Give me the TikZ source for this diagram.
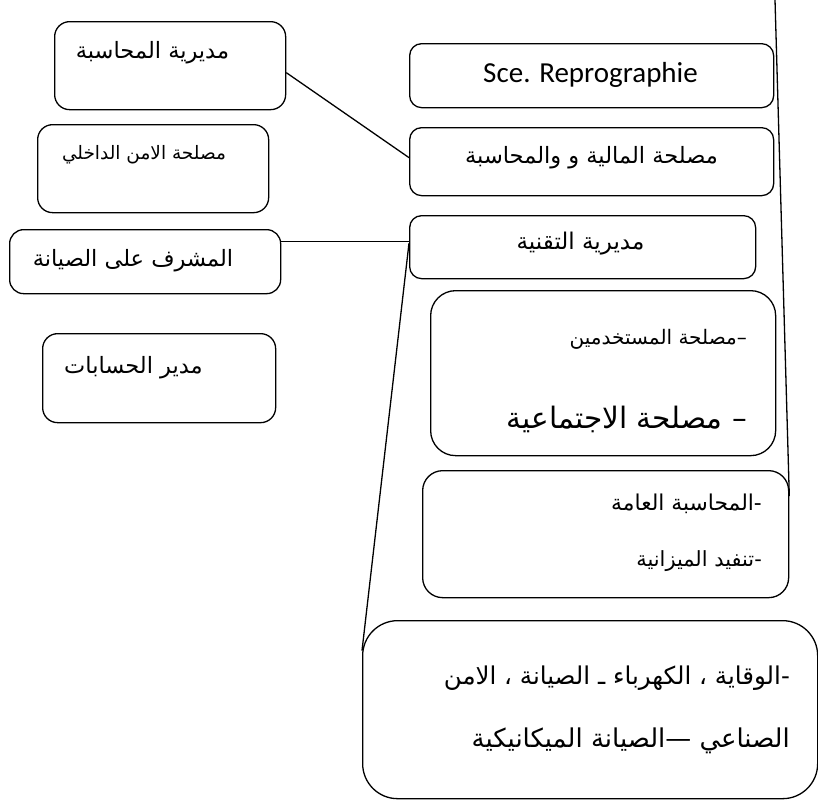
\documentclass[tikz,border=0pt]{standalone}
\usepackage{fontspec}
\setmainfont{Carlito}
\newfontfamily\ar[Script=Arabic]{DejaVu Sans}
\TeXXeTstate=1
\begin{document}
\begin{tikzpicture}[x=1pt,y=-1pt,
  box/.style={draw, line width=1.3pt, rounded corners=#1, inner sep=0pt, anchor=north west},
  atxt/.style={font=\ar\fontsize{#1}{#1}\selectfont, inner sep=0pt},
  ltxt/.style={font=\fontsize{#1}{#1}\selectfont, inner sep=0pt},
  conn/.style={line width=1.3pt}]
\useasboundingbox (0,0) rectangle (818,801);
% left boxes
\node[box=15pt, minimum width=231pt, minimum height=88pt] (b1) at (54,21) {};
\node[box=15pt, minimum width=231pt, minimum height=88pt] (b2) at (37,124) {};
\node[box=14pt, minimum width=271pt, minimum height=64pt] (b3) at (9,229) {};
\node[box=15pt, minimum width=233pt, minimum height=89pt] (b4) at (42,333) {};
% right boxes
\node[box=12pt, minimum width=364pt, minimum height=64pt] (b5) at (409,43) {};
\node[box=12pt, minimum width=364pt, minimum height=68pt] (b6) at (409,127) {};
\node[box=12pt, minimum width=346pt, minimum height=63pt] (b7) at (409,215) {};
\node[box=25pt, minimum width=345pt, minimum height=165pt] (b8) at (430,290) {};
\node[box=20pt, minimum width=366pt, minimum height=127pt] (b9) at (422,470) {};
\node[box=35pt, minimum width=455pt, minimum height=178pt] (b10) at (362,620) {};
% texts
\node[atxt=22.5] (t1) at (152.5,53) {\beginR مديرية المحاسبة\endR};
\node[atxt=18.5] (t2) at (144,155) {\beginR مصلحة الامن الداخلي\endR};
\node[atxt=22.5] (t3) at (133,261) {\beginR المشرف على الصيانة\endR};
\node[atxt=22.5] (t4) at (133.5,368) {\beginR مدير الحسابات\endR};
\node[ltxt=29] (t5) at (590.5,75) {Sce. Reprographie};
\node[atxt=22.5] (t6) at (591.5,158) {\beginR مصلحة المالية و والمحاسبة\endR};
\node[atxt=23] (t7) at (580.5,244) {\beginR مديرية التقنية\endR};
\node[atxt=20, anchor=east] (t8a) at (747,339) {\beginR –مصلحة المستخدمين\endR};
\node[atxt=29.5, anchor=east] (t8b) at (747,419) {\beginR – مصلحة الاجتماعية\endR};
\node[atxt=21.8, anchor=east] (t9a) at (762,504) {\beginR -المحاسبة العامة\endR};
\node[atxt=20.9, anchor=east] (t9b) at (762,561) {\beginR -تنفيد الميزانية\endR};
\node[atxt=24.5, anchor=east] (t10a) at (790,678) {\beginR -الوقاية ، الكهرباء ـ الصيانة ، الامن\endR};
\node[atxt=25.9, anchor=east] (t10b) at (790,741) {\beginR الصناعي —الصيانة الميكانيكية\endR};
% connectors
\coordinate (top) at (775,0);
\draw[conn] ([yshift=-7pt]b1.east) -- ([yshift=4pt]b6.west);
\draw[conn] ([yshift=20pt]b3.east) -- ([yshift=5.5pt]b7.west);
\draw[conn] ([yshift=4pt]b7.west) -- ([yshift=59pt]b10.west);
\draw[conn] (top) -- ([yshift=38pt]b9.east);
\end{tikzpicture}
\end{document}
